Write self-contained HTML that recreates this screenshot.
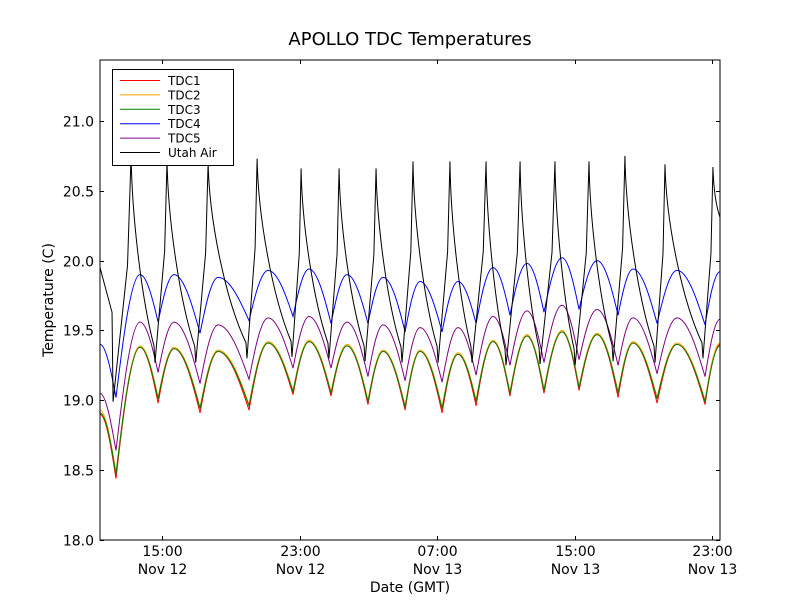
<!DOCTYPE html>
<html><head><meta charset="utf-8">
<style>
html,body{margin:0;padding:0;background:#fff;}
svg{display:block;font-family:"DejaVu Sans","Liberation Sans",sans-serif;}
</style></head>
<body>
<svg id="chart" width="800" height="600" viewBox="0 0 800 600" xmlns="http://www.w3.org/2000/svg">
<rect x="0" y="0" width="800" height="600" fill="#fff"/>
<text x="410" y="45" font-size="18" text-anchor="middle">APOLLO TDC Temperatures</text>
<g id="plot"></g>
<g id="axes"></g>
<text x="410" y="592" font-size="14" text-anchor="middle">Date (GMT)</text>
<text x="0" y="0" font-size="14" text-anchor="middle" transform="translate(53,300) rotate(-90)">Temperature (C)</text>
<g id="legend"></g>
</svg>
<script>
// ---- data (hours since Nov 12 00:00 GMT, temperatures in C) ----
const tdcTimes = [11.39,12.32,13.72,14.77,15.70,17.21,18.26,20.06,21.17,22.62,23.55,24.83,25.76,26.98,27.86,29.14,30.01,31.29,32.22,33.27,34.26,35.24,36.23,37.22,38.27,39.26,40.31,41.53,42.40,43.80,44.96,46.59,47.46];
const tdc1 = [18.90,18.44,19.38,18.98,19.37,18.91,19.35,18.93,19.41,19.04,19.42,19.03,19.39,18.97,19.35,18.93,19.35,18.91,19.33,18.96,19.42,19.03,19.46,19.05,19.49,19.07,19.47,19.02,19.41,18.98,19.40,18.97,19.40];
const tdc2 = [18.93,18.48,19.39,19.02,19.38,18.95,19.36,18.97,19.42,19.07,19.43,19.06,19.40,19.00,19.36,18.96,19.36,18.95,19.34,19.00,19.43,19.06,19.47,19.08,19.50,19.10,19.48,19.06,19.42,19.02,19.41,19.00,19.41];
const tdc3 = [18.91,18.47,19.38,19.01,19.37,18.94,19.35,18.96,19.41,19.06,19.42,19.05,19.39,18.99,19.35,18.95,19.35,18.94,19.33,18.99,19.42,19.05,19.46,19.07,19.49,19.09,19.47,19.05,19.41,19.01,19.40,18.99,19.39];
const tdc4 = [19.40,19.02,19.90,19.56,19.90,19.48,19.88,19.57,19.93,19.60,19.94,19.55,19.90,19.55,19.88,19.49,19.85,19.49,19.85,19.55,19.95,19.61,19.98,19.63,20.02,19.65,20.00,19.61,19.94,19.55,19.93,19.54,19.92];
const tdc5 = [19.05,18.64,19.56,19.20,19.56,19.12,19.54,19.15,19.59,19.23,19.60,19.23,19.56,19.17,19.54,19.14,19.52,19.13,19.52,19.18,19.60,19.25,19.64,19.27,19.68,19.29,19.65,19.25,19.59,19.19,19.59,19.17,19.58];
const airStartTimes = [11.39,12.09];
const airStartValues = [19.95,19.63];
const airTroughTimes = [12.15,14.59,16.96,19.94,22.56,24.71,26.81,28.96,31.06,33.03,35.01,36.99,39.03,41.24,43.68,46.47];
const airTroughValues = [18.99,19.27,19.27,19.30,19.31,19.30,19.28,19.27,19.27,19.27,19.25,19.26,19.25,19.28,19.27,19.30];
const airPeakTimes = [13.20,15.29,17.68,20.53,23.09,25.30,27.45,29.60,31.75,33.85,35.83,37.86,39.84,41.93,44.26,47.05];
const airPeakValues = [20.76,20.72,20.70,20.73,20.66,20.66,20.66,20.71,20.71,20.71,20.71,20.71,20.71,20.75,20.69,20.67];
const airEndTime = 47.46;
const airEndValue = 20.31;
const yTicks = [18.0,18.5,19.0,19.5,20.0,20.5,21.0];
const xTickHours = [15,23,31,39,47];
const xTickTimes = ["15:00","23:00","07:00","15:00","23:00"];
const xTickDates = ["Nov 12","Nov 12","Nov 13","Nov 13","Nov 13"];
const seriesNames = ["TDC1","TDC2","TDC3","TDC4","TDC5","Utah Air"];

// ---- layout ----
const L=100,R=720,T=60,B=540;
const tMin=11.39,tMax=47.46,vMin=18.0,vMax=21.436;
function X(t){return L+(t-tMin)/(tMax-tMin)*(R-L);}
function Y(v){return B-(v-vMin)/(vMax-vMin)*(B-T);}
const NS="http://www.w3.org/2000/svg";
function mk(tag,attrs,parent){const e=document.createElementNS(NS,tag);for(const k in attrs)e.setAttribute(k,attrs[k]);parent.appendChild(e);return e;}
const plot=document.getElementById('plot');
const axes=document.getElementById('axes');
const legend=document.getElementById('legend');
const defs=mk('defs',{},document.getElementById('chart'));
const cp=mk('clipPath',{id:'clip'},defs);
mk('rect',{x:L,y:T,width:R-L,height:B-T},cp);
plot.setAttribute('clip-path','url(#clip)');

// asymmetric shape: rounded peaks, steep but smooth troughs
function shapedPath(ts,vs){
  const p=ts.map((t,i)=>[X(t),Y(vs[i])]);
  let d='M'+p[0][0].toFixed(2)+','+p[0][1].toFixed(2);
  for(let i=0;i<p.length-1;i++){
    const a=p[i],b=p[i+1],dx=b[0]-a[0],dy=b[1]-a[1];
    let c1,c2;
    if(dy<0){ // rising toward peak
      c1=[a[0]+dx*0.22,a[1]+dy*0.35];
      c2=[b[0]-dx*0.4,b[1]];
    } else { // falling toward trough
      c1=[a[0]+dx*0.4,a[1]];
      c2=[b[0]-dx*0.22,b[1]-dy*0.35];
    }
    d+=' C'+c1[0].toFixed(2)+','+c1[1].toFixed(2)+' '+c2[0].toFixed(2)+','+c2[1].toFixed(2)+' '+b[0].toFixed(2)+','+b[1].toFixed(2);
  }
  return d;
}
const colors=["#ff0000","#ffa500","#008000","#0000ff","#800080","#000000"];
const tdcData=[tdc1,tdc2,tdc3,tdc4,tdc5];
const tdcNames=['tdc1-line','tdc2-line','tdc3-line','tdc4-line','tdc5-line'];
tdcData.forEach((vals,i)=>{
  const path=mk('path',{d:shapedPath(tdcTimes,vals),fill:'none',stroke:colors[i],'stroke-width':1},plot);
  
  
});
// Utah Air sawtooth
(function(){
  let d='M'+X(airStartTimes[0])+','+Y(airStartValues[0]);
  for(let i=1;i<airStartTimes.length;i++) d+=' L'+X(airStartTimes[i])+','+Y(airStartValues[i]);
  for(let i=0;i<airTroughTimes.length;i++){
    const tx=X(airTroughTimes[i]),ty=Y(airTroughValues[i]);
    const px=X(airPeakTimes[i]),py=Y(airPeakValues[i]);
    d+=' L'+tx+','+ty;
    d+=' L'+(tx+(px-tx)*0.8)+','+(ty+(py-ty)*0.55)+' L'+px+','+py;
    let nx,ny;
    if(i+1<airTroughTimes.length){nx=X(airTroughTimes[i+1]);ny=Y(airTroughValues[i+1]);}
    else {nx=X(airEndTime);ny=Y(airEndValue);}
    const dx=nx-px,dy=ny-py;
    if(i+1<airTroughTimes.length){
      d+=' C'+(px+dx*0.03)+','+(py+dy*0.3)+' '+(px+dx*0.45)+','+(py+dy*0.7)+' '+(nx-1)+','+(ny-dy*0.08);
    } else {
      d+=' C'+(px+dx*0.1)+','+(py+dy*0.5)+' '+(px+dx*0.5)+','+(py+dy*0.8)+' '+nx+','+ny;
    }
  }
  const path=mk('path',{d:d,fill:'none',stroke:'#000','stroke-width':1},plot);
  
  
})();

// frame
const frame=mk('rect',{x:L,y:T,width:R-L,height:B-T,fill:'none',stroke:'#000','stroke-width':1},axes);


yTicks.forEach(v=>{
  const y=Math.round(Y(v))+0.5;
  mk('line',{x1:L,x2:L+4,y1:y,y2:y,stroke:'#000'},axes);
  mk('line',{x1:R,x2:R-4,y1:y,y2:y,stroke:'#000'},axes);
  const t=mk('text',{x:L-6,y:y+5,'font-size':14,'text-anchor':'end'},axes);
  t.textContent=v.toFixed(1);
  
  
});
xTickHours.forEach((h,i)=>{
  const x=Math.round(X(h))+0.5;
  mk('line',{x1:x,x2:x,y1:B,y2:B-4,stroke:'#000'},axes);
  mk('line',{x1:x,x2:x,y1:T,y2:T+4,stroke:'#000'},axes);
  const t1=mk('text',{x:x,y:B+16,'font-size':14,'text-anchor':'middle'},axes);
  t1.textContent=xTickTimes[i];
  
  
  const t2=mk('text',{x:x,y:B+34,'font-size':14,'text-anchor':'middle'},axes);
  t2.textContent=xTickDates[i];
  
  
});
// legend
const lb=mk('rect',{x:112.5,y:69.5,width:121,height:96,fill:'#fff',stroke:'#000'},legend);


seriesNames.forEach((n,i)=>{
  const y=80.5+i*14.4;
  const g=mk('g',{},legend);
  
  
  mk('line',{x1:120,x2:160,y1:y,y2:y,stroke:colors[i]},g);
  const t=mk('text',{x:168,y:y+4.5,'font-size':12},g);
  t.textContent=n;
});
</script>
</body></html>
